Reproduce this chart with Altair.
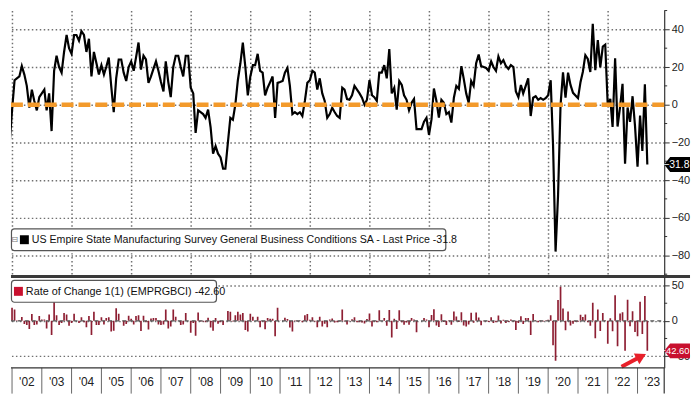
import altair as alt
import pandas as pd

# ---- Monthly values: US Empire State Manufacturing Survey, General Business Conditions SA ----
v2001 = [-8.5, -13.0, -17.0, -21.6]  # Sep-Dec 2001
v2002 = [-3.0, 13.0, 14.0, 15.0, 20.5, 16.0, 10.0, -1.6, 8.0, 2.0, -3.0, 4.0]
v2003 = [6.0, 8.0, -3.0, 6.0, -14.0, 18.0, 26.0, 20.0, 17.0, 28.0, 37.0, 30.0]
v2004 = [27.0, 37.0, 37.0, 34.0, 39.0, 37.0, 28.0, 35.0, 15.0, 28.0, 22.0, 16.0]
v2005 = [21.0, 16.0, 20.0, 25.0, 10.0, -4.0, 14.0, 24.0, 24.0, 17.0, 12.6, 20.0]
v2006 = [23.0, 18.0, 25.0, 33.0, 18.6, 26.0, 24.0, 11.6, 15.0, 19.0, 23.0, 18.0]
v2007 = [12.0, 7.0, 23.0, 12.0, 4.0, 20.0, 26.0, 26.0, 20.0, 15.0, 26.0, 26.0]
v2008 = [9.0, 6.0, -15.0, -3.0, -4.0, -5.0, -7.0, -2.6, -12.0, -26.0, -22.0, -26.0]
v2009 = [-28.0, -34.0, -34.0, -20.0, -7.0, -8.0, 0.0, 13.0, 22.0, 33.0, 20.0, 5.0]
v2010 = [15.0, 21.0, 21.0, 27.0, 18.0, 17.0, 5.0, 9.0, 12.0, 15.0, -7.0, 11.6]
v2011 = [12.0, 12.6, 17.0, 19.5, 10.0, -5.0, -4.0, -5.0, -4.0, -6.0, 2.0, 11.6]
v2012 = [13.0, 18.0, 17.0, 8.0, 14.0, 6.0, 2.0, -7.0, -5.0, -1.6, -4.0, -6.0]
v2013 = [-7.0, 9.0, 8.0, 3.0, 2.6, 5.0, 10.0, 8.0, 6.0, 3.7, 0.0, 2.6]
v2014 = [13.0, 5.0, 4.0, 2.0, 17.0, 17.0, 21.0, 14.0, 29.5, 6.0, 9.0, -2.6]
v2015 = [12.6, 10.5, 5.0, 2.6, -3.0, 1.0, 3.0, -13.0, -13.0, -13.0, -9.0, -7.0]
v2016 = [-16.0, -7.7, 8.6, 2.0, -6.8, 2.6, 1.0, -5.0, -4.0, -9.5, 3.7, 10.0]
v2017 = [8.4, 20.5, 14.0, 6.0, 1.0, 12.6, 10.0, 22.0, 26.6, 20.5, 20.0, 19.5]
v2018 = [18.0, 23.0, 20.0, 18.0, 25.6, 22.0, 23.7, 20.5, 19.0, 21.0, 20.0, 7.0]
v2019 = [4.0, 10.5, 6.0, 10.0, 14.0, -6.0, 3.7, 4.5, 2.6, 3.5, 2.6, 3.5]
v2020 = [5.0, 13.0, -21.5, -78.0, -48.5, -0.2, 17.2, 3.7, 17.0, 10.5, 6.3, 4.9]
v2021 = [3.5, 12.1, 17.4, 26.3, 24.3, 17.4, 43.0, 18.3, 34.3, 19.8, 30.9, 31.9]
v2022 = [-0.7, 3.1, -11.8, 24.6, -11.6, -1.2, 11.1, -31.3, -1.5, -9.1, 4.5, -11.2]
v2023 = [-32.9, -5.8, -24.6, 10.8, -31.8]  # Jan-May 2023

year_labels = ["'02", "'03", "'04", "'05", "'06", "'07", "'08", "'09", "'10", "'11", "'12",
               "'13", "'14", "'15", "'16", "'17", "'18", "'19", "'20", "'21", "'22", "'23"]
label_years = list(range(2002, 2024))
grid_years = list(range(2002, 2023, 2))
top_ticks = [-80, -60, -40, -20, 0, 20, 40]
top_minor = [50, 30, 10, -10, -30, -50, -70, -90]
bot_ticks = [-50, 0, 50]
bot_minor = [25, -25]

top_title = "US Empire State Manufacturing Survey General Business Conditions SA - Last Price -31.8"
bot_title = "Rate of Change 1(1) (EMPRGBCI) -42.60"

values = (v2001 + v2002 + v2003 + v2004 + v2005 + v2006 + v2007 + v2008 + v2009 + v2010 +
          v2011 + v2012 + v2013 + v2014 + v2015 + v2016 + v2017 + v2018 + v2019 + v2020 +
          v2021 + v2022 + v2023)
dates = pd.date_range("2001-09-01", periods=len(values), freq="MS")
df = pd.DataFrame({"date": dates.strftime("%Y-%m-%d"), "value": values})
df["roc"] = df["value"].diff().round(2)
roc_df = df.dropna()
last_df = df.tail(1)
last_roc = roc_df.tail(1)

sep_df = pd.DataFrame({"date": [f"{y}-01-01" for y in label_years]})
lab_df = pd.DataFrame({"date": [f"{y}-07-02" for y in label_years], "label": year_labels})

W = 658
H_TOP = 268
H_BOT = 92
H_AX = 26
RIGHT = 684
FONT = "Liberation Sans"
GRID = "#707070"
DOT = [1.5, 2.5]
GW = 1.5
MAROON = "#8e1f33"
RED = "#c8102e"
ORANGE = "#f39a2b"

xscale = alt.Scale(domain=[alt.DateTime(year=2001, month=12, date=19),
                           alt.DateTime(year=2023, month=11, date=24)])
grid_axis = alt.Axis(values=[alt.DateTime(year=y, month=1, date=1) for y in grid_years],
                     grid=True, gridColor=GRID, gridDash=DOT, gridWidth=GW, gridOpacity=1,
                     labels=False, ticks=False, domain=False, title=None)
XG = alt.X("date:T", scale=xscale, axis=grid_axis)
X = alt.X("date:T", scale=xscale, axis=None)
one = pd.DataFrame({"k": [0]})

# ---------------- top panel ----------------
ysc_top = alt.Scale(domain=[-91.2, 50.07], nice=False, zero=False)
top_axis = alt.Axis(orient="right", values=top_ticks, grid=True, gridColor=GRID, gridDash=DOT,
                    gridWidth=GW, gridOpacity=1, title=None,
                    tickSize=5, labelPadding=2, domainColor="#333", tickColor="#333",
                    labelColor="#222", labelFontSize=11, labelFont=FONT, domainWidth=1.2)

line_t = alt.Chart(df).mark_line(color="#000", strokeWidth=2.2, clip=True).encode(
    x=XG, y=alt.Y("value:Q", scale=ysc_top, axis=top_axis))
minor_t = alt.Chart(pd.DataFrame({"v": top_minor})).mark_rule(color="#333", strokeWidth=1).encode(
    y=alt.Y("v:Q", scale=ysc_top), x=alt.value(W), x2=alt.value(W + 3))
zero_t = alt.Chart(pd.DataFrame({"v": [0]})).mark_rule(
    color=ORANGE, strokeDash=[12, 5], strokeWidth=4.5).encode(
    y=alt.Y("v:Q", scale=ysc_top), x=alt.value(0), x2=alt.value(W))
leg_box_t = alt.Chart(one).mark_rect(
    fill="white", stroke="#555", strokeWidth=1.2, cornerRadius=3).encode(
    x=alt.value(0.5), x2=alt.value(438), y=alt.value(220), y2=alt.value(242))
leg_icon_t = alt.Chart(one).mark_text(
    text="⊟", font="DejaVu Sans", fontSize=8, color="#777").encode(x=alt.value(4), y=alt.value(231))
leg_sq_t = alt.Chart(one).mark_rect(fill="#000").encode(
    x=alt.value(9), x2=alt.value(18), y=alt.value(226.5), y2=alt.value(235.5))
leg_txt_t = alt.Chart(pd.DataFrame({"t": [top_title]})).mark_text(
    align="left", baseline="middle", font=FONT, fontSize=10.7, color="#111").encode(
    x=alt.value(21), y=alt.value(231.5), text="t:N")
TAG = "M -1 0 L -0.54 -0.58 L 1 -0.58 L 1 0.58 L -0.54 0.58 Z"
tag_t = alt.Chart(last_df).mark_point(shape=TAG, filled=True, fill="#000", stroke=None, size=676,
                                      opacity=1).encode(x=alt.value(671), y=alt.Y("value:Q", scale=ysc_top))
tag_txt_t = alt.Chart(last_df).mark_text(color="white", font=FONT, fontSize=10.5, align="right",
                                         baseline="middle").encode(
    x=alt.value(RIGHT - 0.5), y=alt.Y("value:Q", scale=ysc_top), text=alt.Text("value:Q", format=".1f"))
sep = alt.Chart(one).mark_rule(color="#3a3a3a", strokeWidth=3).encode(
    x=alt.value(0), x2=alt.value(RIGHT), y=alt.value(H_TOP))

top = alt.layer(line_t, zero_t, minor_t, leg_box_t, leg_icon_t, leg_sq_t,
                leg_txt_t, tag_t, tag_txt_t, sep).properties(width=W, height=H_TOP)

# ---------------- bottom panel ----------------
ysc_bot = alt.Scale(domain=[-66.6, 63.0], nice=False, zero=False)
bot_axis = alt.Axis(orient="right", values=bot_ticks, grid=True, gridColor=GRID, gridDash=DOT,
                    gridWidth=GW, gridOpacity=1, title=None,
                    tickSize=5, labelPadding=2, domainColor="#333", tickColor="#333",
                    labelColor="#222", labelFontSize=11, labelFont=FONT, domainWidth=1.2)
bars = alt.Chart(roc_df).mark_rule(color=MAROON, strokeWidth=1.7, clip=True).encode(
    x=XG, y=alt.Y("roc:Q", scale=ysc_bot, axis=bot_axis), y2=alt.datum(0))
minor_b = alt.Chart(pd.DataFrame({"v": bot_minor})).mark_rule(color="#333", strokeWidth=1).encode(
    y=alt.Y("v:Q", scale=ysc_bot), x=alt.value(W), x2=alt.value(W + 3))
zero_b = alt.Chart(pd.DataFrame({"v": [0]})).mark_rule(
    color="#555", strokeDash=[4, 3], strokeWidth=1.3).encode(
    y=alt.Y("v:Q", scale=ysc_bot), x=alt.value(0), x2=alt.value(W))
leg_box_b = alt.Chart(one).mark_rect(
    fill="white", stroke="#555", strokeWidth=1.2, cornerRadius=3).encode(
    x=alt.value(0.5), x2=alt.value(207), y=alt.value(4), y2=alt.value(26))
leg_sq_b = alt.Chart(one).mark_rect(fill=RED).encode(
    x=alt.value(3), x2=alt.value(12), y=alt.value(10.5), y2=alt.value(19.5))
leg_txt_b = alt.Chart(pd.DataFrame({"t": [bot_title]})).mark_text(
    align="left", baseline="middle", font=FONT, fontSize=10.9, color="#111").encode(
    x=alt.value(15), y=alt.value(15.5), text="t:N")
arrow_df = pd.DataFrame({"d1": ["2022-06-19"], "d2": ["2023-01-13"], "v1": [-65.2], "v2": [-52.5],
                         "dh": ["2023-02-16"], "vh": [-50.5]})
arrow_shaft = alt.Chart(arrow_df).mark_rule(color="#e8202a", strokeWidth=4).encode(
    x=alt.X("d1:T", scale=xscale, axis=None), x2="d2:T",
    y=alt.Y("v1:Q", scale=ysc_bot), y2="v2:Q")
arrow_head = alt.Chart(arrow_df).mark_point(shape="triangle-right", filled=True, fill="#e8202a",
                                            stroke=None, size=150, angle=333, opacity=1).encode(
    x=alt.X("dh:T", scale=xscale, axis=None), y=alt.Y("vh:Q", scale=ysc_bot))
tag_b = alt.Chart(last_roc).mark_point(shape=TAG, filled=True, fill=RED, stroke=None, size=676,
                                       opacity=1).encode(x=alt.value(671), y=alt.Y("roc:Q", scale=ysc_bot))
tag_txt_b = alt.Chart(last_roc).mark_text(color="white", font=FONT, fontSize=9.5, align="right",
                                          baseline="middle").encode(
    x=alt.value(RIGHT - 0.5), y=alt.Y("roc:Q", scale=ysc_bot), text=alt.Text("roc:Q", format=".2f"))

bottom = alt.layer(bars, zero_b, minor_b, leg_box_b, leg_sq_b, leg_txt_b,
                   arrow_shaft, arrow_head, tag_b, tag_txt_b).properties(width=W, height=H_BOT)

# ---------------- x axis band ----------------
seps = alt.Chart(sep_df).mark_rule(color="#666", strokeWidth=1).encode(
    x=X, y=alt.value(0), y2=alt.value(H_AX))
labels = alt.Chart(lab_df).mark_text(font=FONT, fontSize=12, color="#222", baseline="middle").encode(
    x=X, y=alt.value(14), text="label:N")
axis_line = alt.Chart(one).mark_rule(color="#333", strokeWidth=1.2).encode(
    x=alt.value(0), x2=alt.value(W), y=alt.value(0))
right_edge = alt.Chart(one).mark_rule(color="#333", strokeWidth=1.2).encode(
    x=alt.value(W), y=alt.value(0), y2=alt.value(H_AX))
band = alt.layer(seps, labels, axis_line, right_edge).properties(width=W, height=H_AX)

chart = alt.vconcat(top, bottom, band, spacing=0, bounds="flush").properties(
    padding={"left": 0, "top": 0, "right": 0, "bottom": 0}, background="white"
).configure_view(stroke=None)

chart.save("out.html", embed_options={"renderer": "svg", "actions": False})
